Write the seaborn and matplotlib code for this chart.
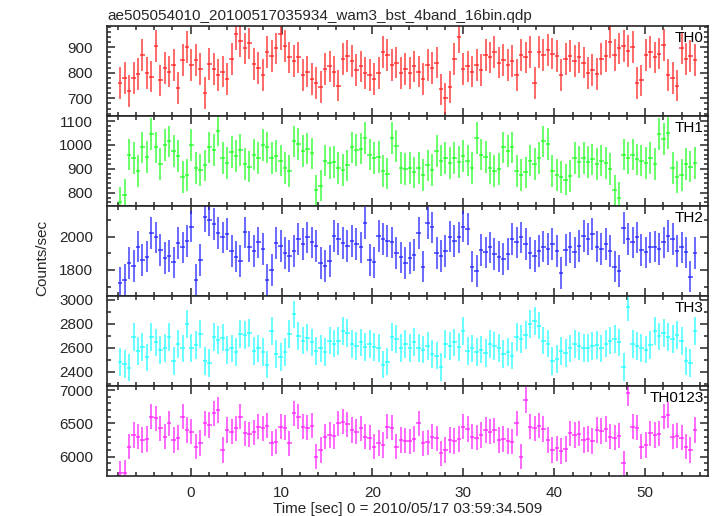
import numpy as np
import pandas as pd
import matplotlib
matplotlib.use("Agg")
import matplotlib.pyplot as plt
from matplotlib.ticker import MultipleLocator
import seaborn as sns

# light curve values (counts/sec, ~0.49 s bins)
th0 = [760, 780, 730, 780, 795, 870, 800, 785, 905, 770,
       820, 805, 830, 740, 850, 900, 830, 850, 815, 720,
       835, 815, 790, 805, 775, 855, 950, 925, 895, 915,
       835, 820, 790, 880, 865, 895, 950, 905, 860, 845,
       860, 790, 805, 775, 760, 745, 815, 825, 805, 750,
       855, 865, 845, 810, 825, 800, 790, 775, 800, 880,
       870, 830, 840, 800, 815, 800, 825, 805, 775, 830,
       820, 840, 735, 700, 745, 855, 940, 815, 825, 805,
       830, 810, 870, 860, 880, 840, 850, 830, 845, 790,
       870, 860, 880, 760, 880, 870, 890, 875, 865, 790,
       855, 865, 845, 860, 840, 800, 810, 795, 855, 865,
       920, 870, 895, 905, 885, 900, 760, 770, 870, 880,
       860, 875, 910, 790, 780, 750, 895, 855, 865, 850]

th1 = [760, 790, 960, 945, 890, 990, 950, 1045, 990, 920,
       1000, 1015, 975, 955, 865, 875, 1000, 905, 895, 915,
       990, 980, 1060, 945, 925, 970, 955, 980, 920, 910,
       960, 945, 1000, 990, 945, 955, 935, 905, 890, 1015,
       1005, 975, 985, 965, 810, 830, 935, 925, 930, 905,
       895, 915, 990, 980, 985, 1030, 960, 945, 950, 890,
       880, 1030, 995, 905, 900, 905, 885, 905, 875, 915,
       895, 975, 935, 945, 925, 945, 930, 955, 935, 905,
       1030, 960, 950, 905, 890, 900, 990, 975, 990, 890,
       875, 885, 935, 920, 945, 1015, 1005, 890, 875, 865,
       855, 870, 945, 930, 945, 930, 940, 920, 935, 925,
       900, 810, 780, 960, 945, 960, 940, 935, 925, 945,
       920, 1045, 1025, 1050, 905, 865, 875, 920, 910, 925]

th2 = [1720, 1740, 1840, 1825, 1940, 1860, 1880, 2020, 1995, 1920,
       1870, 1885, 1845, 1960, 1935, 1975, 2060, 1740, 1860, 2120,
       2100, 2075, 2020, 1995, 2015, 1915, 1880, 1855, 2025, 1940,
       1915, 1965, 1925, 1740, 1800, 1960, 1945, 1900, 1885, 1915,
       1985, 1955, 1995, 1965, 1945, 1840, 1825, 1855, 2005, 1985,
       1960, 1945, 1975, 1955, 1935, 2080, 1860, 1845, 2005, 1985,
       1975, 1965, 1900, 1875, 1840, 1870, 1890, 2020, 1820, 2080,
       2055, 1900, 1885, 1915, 2000, 1975, 1995, 2060, 2045, 1820,
       1795, 1920, 1905, 1935, 1895, 1880, 1865, 1895, 1985, 1965,
       1995, 1955, 1900, 1885, 1915, 1940, 1925, 1955, 1915, 1780,
       1920, 1935, 1905, 1945, 2005, 1985, 2015, 1940, 1925, 1955,
       1915, 1820, 1795, 2050, 1985, 1965, 1995, 1920, 1905, 1935,
       1940, 1925, 1965, 2005, 1985, 1915, 1935, 1905, 1760, 1900]

th3 = [2480, 2465, 2435, 2690, 2575, 2605, 2520, 2690, 2645, 2580,
       2600, 2690, 2490, 2630, 2595, 2800, 2600, 2625, 2715, 2490,
       2475, 2690, 2665, 2685, 2580, 2595, 2565, 2715, 2705, 2725,
       2575, 2595, 2565, 2460, 2740, 2550, 2525, 2565, 2715, 2880,
       2700, 2660, 2685, 2645, 2575, 2595, 2565, 2660, 2635, 2655,
       2740, 2725, 2630, 2615, 2645, 2605, 2630, 2605, 2600, 2460,
       2485, 2690, 2675, 2600, 2630, 2600, 2650, 2600, 2585, 2615,
       2550, 2535, 2440, 2630, 2615, 2645, 2605, 2740, 2575, 2595,
       2565, 2585, 2555, 2630, 2615, 2600, 2550, 2565, 2535, 2690,
       2675, 2705, 2800, 2825, 2785, 2660, 2635, 2490, 2505, 2575,
       2555, 2595, 2630, 2615, 2600, 2600, 2615, 2625, 2595, 2635,
       2660, 2675, 2645, 2440, 2940, 2630, 2615, 2600, 2585, 2625,
       2740, 2695, 2725, 2690, 2675, 2705, 2655, 2490, 2475, 2740]

th0123 = [5750, 5760, 6150, 6325, 6300, 6250, 6265, 6600, 6575, 6425,
          6300, 6500, 6250, 6285, 6600, 6400, 6375, 6150, 6205, 6500,
          6475, 6650, 6700, 6100, 6400, 6375, 6425, 6600, 6350, 6335,
          6365, 6450, 6425, 6465, 6200, 6225, 6450, 6435, 6200, 6650,
          6600, 6450, 6435, 6465, 6000, 6100, 6300, 6325, 6305, 6500,
          6525, 6485, 6400, 6375, 6425, 6300, 6285, 6150, 6205, 6175,
          6450, 6435, 6150, 6250, 6240, 6230, 6265, 6500, 6200, 6215,
          6300, 6275, 6050, 6100, 6250, 6235, 6265, 6450, 6415, 6300,
          6285, 6325, 6400, 6375, 6395, 6250, 6265, 6235, 6225, 6500,
          6000, 6850, 6450, 6425, 6465, 6415, 6250, 6100, 6125, 6085,
          6115, 6350, 6325, 6345, 6250, 6265, 6235, 6400, 6385, 6415,
          6300, 6285, 6315, 5900, 6950, 6450, 6435, 6150, 6175, 6350,
          6325, 6345, 6600, 6625, 6300, 6315, 6285, 6150, 6100, 6400]

bands = ["TH0", "TH1", "TH2", "TH3", "TH0123"]
series = [th0, th1, th2, th3, th0123]
errors = [62, 66, 95, 115, 190]   # half-length of the error bars
colors = ["#ff2020", "#20ff20", "#2020ff", "#20ffff", "#ff20ff"]
ylims = [(631, 983), (745, 1121), (1644, 2184), (2281, 3033), (5710, 7060)]
major = [100, 100, 200, 200, 500]
minor = [20, 20, 100, 100, 100]

t0, dt = -7.75, 0.49
time = t0 + dt * np.arange(len(th0))

sns.set_theme(style="ticks", rc={
    "xtick.direction": "in", "ytick.direction": "in",
    "xtick.top": True, "ytick.right": True,
    "xtick.major.size": 6, "ytick.major.size": 6,
    "xtick.minor.size": 3, "ytick.minor.size": 3,
    "axes.linewidth": 1.2,
})
plt.rcParams["font.family"] = ["Liberation Sans", "DejaVu Sans"]

fig, axes = plt.subplots(5, 1, figsize=(7.17, 5.16), dpi=100, sharex=True,
                         gridspec_kw={"hspace": 0})
fig.subplots_adjust(left=107 / 717, right=708 / 717, top=1 - 26 / 516, bottom=1 - 476 / 516)

for ax, name, vals, err, col, yl, mj, mn in zip(axes, bands, series, errors, colors, ylims, major, minor):
    df = pd.DataFrame({"time": time, "rate": vals})
    ax.errorbar(df["time"], df["rate"], xerr=dt / 2, yerr=err, fmt="none",
                ecolor=col, elinewidth=1.1, capsize=0, alpha=0.85)
    ax.set_ylim(*yl)
    ax.yaxis.set_major_locator(MultipleLocator(mj))
    ax.yaxis.set_minor_locator(MultipleLocator(mn))
    ax.xaxis.set_major_locator(MultipleLocator(10))
    ax.xaxis.set_minor_locator(MultipleLocator(2))
    ax.tick_params(which="both", top=True, right=True, labelsize=11, width=1.1)
    ax.tick_params(axis="y", pad=10)
    ax.text(0.993, 0.95, name, transform=ax.transAxes, ha="right", va="top",
            fontsize=11, color="black")
    ax.set_ylabel("")

axes[-1].set_xlim(-9.2, 56.9)
axes[-1].tick_params(axis="x", pad=7)
axes[-1].set_xlabel("Time [sec] 0 = 2010/05/17 03:59:34.509", fontsize=11, labelpad=2)

fig.text(42 / 717, 0.5, "Counts/sec", rotation=90, ha="center", va="center", fontsize=11)
fig.text(107 / 717, 1 - 20 / 516, "ae505054010_20100517035934_wam3_bst_4band_16bin.qdp",
         ha="left", va="baseline", fontsize=11)

fig.savefig("out.png", dpi=100)
